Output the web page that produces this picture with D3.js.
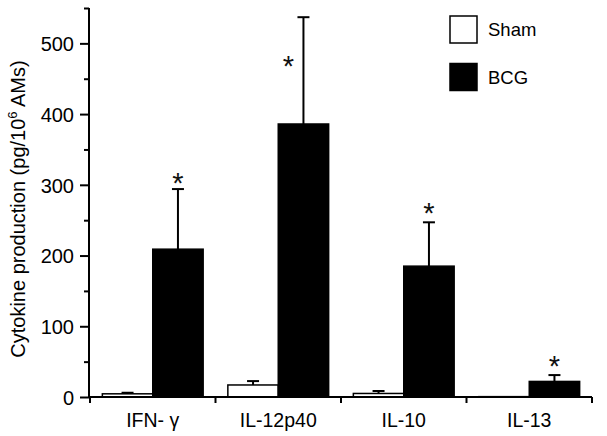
<!DOCTYPE html>
<html><head><meta charset="utf-8">
<script src="https://cdn.jsdelivr.net/npm/d3@7"></script>
<style>body{margin:0;background:#fff}svg{display:block}text{font-family:"Liberation Sans",Arial,sans-serif}</style>
</head><body><svg id="c" width="607" height="436"></svg>
<script>
const categories = ["IFN- \u03b3", "IL-12p40", "IL-10", "IL-13"];
const series = ["Sham", "BCG"];
const shamValues = [4.5, 17, 5, 0.5];
const shamErrors = [1.5, 5.5, 3.5, 0];
const bcgValues = [209, 386, 185, 22];
const bcgErrors = [85, 151, 62, 9];
const starValues = [311, 477, 269, 52];
const yTicks = [0, 100, 200, 300, 400, 500];
const yMinorTicks = [50, 150, 250, 350, 450, 550];

const svg = d3.select("#c");
const x0 = 90, x1 = 592, yBase = 397;
const y = d3.scaleLinear().domain([0, 550]).range([yBase, 8]);
const x = d3.scaleBand().domain(categories).range([x0, x1]).paddingInner(0).paddingOuter(0);
const xs = d3.scaleBand().domain(series).range([0, x.bandwidth()]).paddingInner(0).paddingOuter(0.245);

const values = {Sham: shamValues, BCG: bcgValues};
const errors = {Sham: shamErrors, BCG: bcgErrors};

// bars
series.forEach(s => {
  const g = svg.append("g");
  categories.forEach((c, i) => {
    const v = values[s][i];
    const bx = x(c) + xs(s);
    g.append("rect")
      .attr("x", bx).attr("y", y(v))
      .attr("width", xs.bandwidth()).attr("height", Math.max(0, yBase - y(v)))
      .attr("fill", s === "BCG" ? "#000" : "#fff")
      .attr("stroke", "#000").attr("stroke-width", 1.5);
    const e = errors[s][i];
    if (e > 0) {
      const cx = bx + xs.bandwidth() / 2;
      g.append("line").attr("x1", cx).attr("x2", cx).attr("y1", y(v)).attr("y2", y(v + e))
        .attr("stroke", "#000").attr("stroke-width", 2);
      g.append("line").attr("x1", cx - 6).attr("x2", cx + 6).attr("y1", y(v + e)).attr("y2", y(v + e))
        .attr("stroke", "#000").attr("stroke-width", 2);
    }
  });
});

// asterisks
categories.forEach((c, i) => {
  const cx = x(c) + xs("BCG") + xs.bandwidth() / 2;
  const top = bcgValues[i] + bcgErrors[i];
  const dx = starValues[i] < top ? -15 : 0;
  svg.append("text").attr("x", cx + dx).attr("y", y(starValues[i]) + 16)
    .attr("text-anchor", "middle").attr("font-size", 29).attr("font-weight", 300).attr("fill", "#111").text("*");
});

// y axis
const yAxis = svg.append("g").attr("transform", `translate(${x0 - 1},0)`);
yAxis.call(d3.axisLeft(y).tickValues(yTicks).tickSize(9).tickPadding(6).tickFormat(d3.format("d")));
yAxis.append("g").call(d3.axisLeft(y).tickValues(yMinorTicks).tickSize(5).tickFormat(""))
  .select(".domain").remove();
yAxis.selectAll(".domain").attr("d", `M0,${y(550)}V${yBase}`);
yAxis.selectAll("line").attr("stroke-width", 2);
yAxis.selectAll(".domain").attr("stroke-width", 2);
yAxis.selectAll("text").attr("font-size", 20).attr("fill", "#000").attr("dy", "0.36em")
  .style("font-family", '"Liberation Sans",Arial,sans-serif');

// x axis
const xAxis = svg.append("g").attr("transform", `translate(0,${yBase})`);
xAxis.call(d3.axisBottom(x).tickSize(0).tickPadding(0).tickFormat(""));
xAxis.select(".domain").attr("d", `M${x0 - 1},0H${x1}`).attr("stroke-width", 2);
const bounds = categories.map(c => x(c)).concat([x1]);
bounds.forEach(b => xAxis.append("line").attr("x1", b).attr("x2", b).attr("y1", 0).attr("y2", 6)
  .attr("stroke", "#000").attr("stroke-width", 2));
categories.forEach(c => {
  xAxis.append("text").attr("x", x(c) + x.bandwidth() / 2).attr("y", 30)
    .attr("text-anchor", "middle").attr("font-size", 19.5).attr("fill", "#000").text(c);
});

// y title
svg.append("text").attr("transform", `translate(25,${(62 + 356) / 2}) rotate(-90)`)
  .attr("text-anchor", "middle").attr("font-size", 20).attr("fill", "#000")
  .text("Cytokine production (pg/10")
  .append("tspan").attr("font-size", 13).attr("dy", -8).text("6")
  .select(function(){return this.parentNode;})
  .append("tspan").attr("dy", 8).text(" AMs)");

// legend
series.forEach((s, i) => {
  const ly = 16 + i * 47.5;
  svg.append("rect").attr("x", 450).attr("y", ly).attr("width", 27).attr("height", 27)
    .attr("fill", s === "BCG" ? "#000" : "#fff").attr("stroke", "#000").attr("stroke-width", 1.5);
  svg.append("text").attr("x", 488).attr("y", ly + 13.5).attr("dy", "0.36em")
    .attr("font-size", 18.5).attr("fill", "#000").text(s);
});
</script></body></html>
